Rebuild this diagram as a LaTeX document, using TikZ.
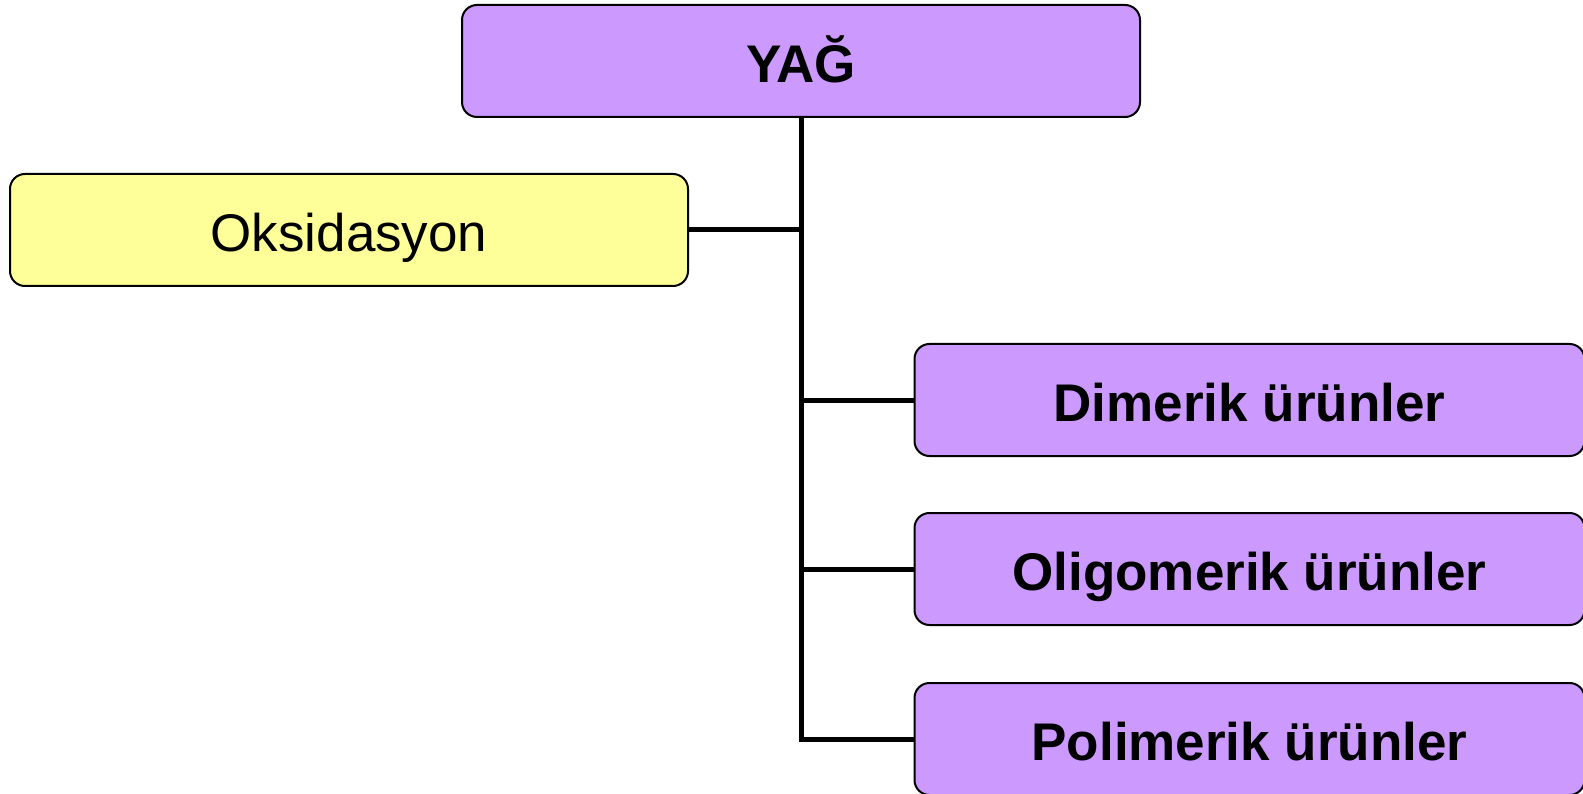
\documentclass[tikz,border=0pt]{standalone}
\usepackage{fontspec}
\setmainfont{Liberation Sans}
\definecolor{lilac}{HTML}{CC99FF}
\definecolor{paleyellow}{HTML}{FFFF99}
\begin{document}
\begin{tikzpicture}[x=1pt,y=-1pt,
  box/.style={draw=black, line width=2pt, rounded corners=15pt, inner sep=0pt,
    minimum height=112pt, text height=43pt, text depth=0pt,
    font=\fontsize{53}{62}\selectfont},
  headbox/.style={box, fill=lilac, font=\fontsize{53}{62}\selectfont\bfseries},
  notebox/.style={box, fill=paleyellow},
  link/.style={line width=5pt}]
\useasboundingbox (0,0) rectangle (1583,794);
% top node and the side note
\node[headbox, minimum width=678pt] (yag) at (801,61) {YAĞ};
\node[notebox, minimum width=678pt] (oks) at (349,230) {Oksidasyon};
% product nodes on the right
\node[headbox, minimum width=670pt] (dim) at (1249.5,400) {Dimerik ürünler};
\node[headbox, minimum width=670pt] (oli) at (1249.5,569) {Oligomerik ürünler};
\node[headbox, minimum width=670pt] (pol) at (1249.5,739) {Polimerik ürünler};
% trunk, ending in the branch to the last node
\draw[link] (yag.south) |- (pol.west);
% remaining branches
\draw[link] (oks.east) -- (oks.east -| yag.south);
\draw[link] (dim.west) -- (dim.west -| yag.south);
\draw[link] (oli.west) -- (oli.west -| yag.south);
\end{tikzpicture}
\end{document}
